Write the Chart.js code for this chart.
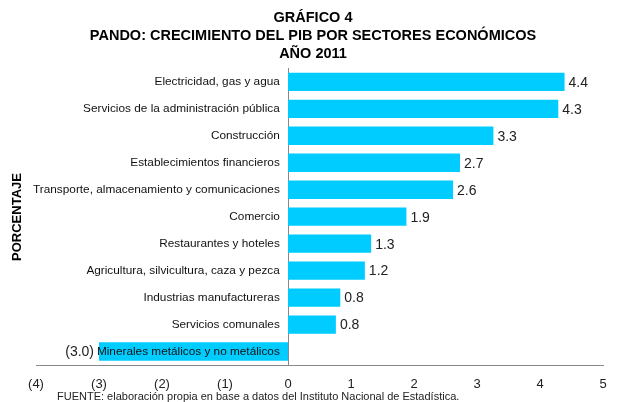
<!DOCTYPE html>
<html>
<head>
<meta charset="utf-8">
<script src="https://cdn.jsdelivr.net/npm/chart.js@4.4.1/dist/chart.umd.min.js"></script>
<style>
  html, body { margin: 0; padding: 0; background: #fff; }
</style>
</head>
<body>
<canvas id="chart" width="619" height="402"></canvas>
<script>
// ---------- Data ----------
const sectors = [
  'Electricidad, gas y agua',
  'Servicios de la administración pública',
  'Construcción',
  'Establecimientos financieros',
  'Transporte, almacenamiento y comunicaciones',
  'Comercio',
  'Restaurantes y hoteles',
  'Agricultura, silvicultura, caza y pezca',
  'Industrias manufactureras',
  'Servicios comunales',
  'Minerales metálicos y no metálicos'
];
const growth = [4.39, 4.29, 3.26, 2.73, 2.62, 1.88, 1.32, 1.22, 0.83, 0.76, -3.0];
const xTickLabels = ['(4)', '(3)', '(2)', '(1)', '0', '1', '2', '3', '4', '5'];
const titleLines = ['GRÁFICO 4', 'PANDO: CRECIMIENTO DEL PIB POR SECTORES ECONÓMICOS', 'AÑO 2011'];
const axisTitle = 'PORCENTAJE';
const sourceNote = 'FUENTE: elaboración propia en base a datos del Instituto Nacional de Estadística.';

const FONT = '"Liberation Sans", Arial, sans-serif';

// ---------- Plugins ----------
function fmtValue(v) {
  return v < 0 ? `(${(-v).toFixed(1)})` : v.toFixed(1);
}

const barLabels = {
  id: 'barLabels',
  afterDatasetsDraw(chart) {
    const { ctx } = chart;
    const meta = chart.getDatasetMeta(0);
    ctx.save();
    ctx.font = `14px ${FONT}`;
    ctx.fillStyle = '#222';
    ctx.textBaseline = 'middle';
    meta.data.forEach((bar, i) => {
      const v = growth[i];
      ctx.textAlign = v < 0 ? 'right' : 'left';
      ctx.fillText(fmtValue(v), bar.x + (v < 0 ? -5 : 4), bar.y + 1);
    });
    ctx.restore();
  }
};

const sideTexts = {
  id: 'sideTexts',
  afterDraw(chart) {
    const { ctx } = chart;
    ctx.save();
    ctx.fillStyle = '#000';
    ctx.font = `bold 13px ${FONT}`;
    ctx.textAlign = 'center';
    ctx.textBaseline = 'middle';
    ctx.translate(17, 217);
    ctx.rotate(-Math.PI / 2);
    ctx.fillText(axisTitle, 0, 0);
    ctx.restore();

    ctx.save();
    ctx.fillStyle = '#222';
    ctx.font = `11px ${FONT}`;
    ctx.textAlign = 'left';
    ctx.textBaseline = 'middle';
    ctx.fillText(sourceNote, 57, 397);
    ctx.restore();
  }
};

// ---------- Chart ----------
new Chart(document.getElementById('chart'), {
  type: 'bar',
  data: {
    labels: sectors,
    datasets: [{
      data: growth,
      backgroundColor: '#00CCFF',
      borderWidth: 0,
      barPercentage: 0.68,
      categoryPercentage: 1
    }]
  },
  options: {
    indexAxis: 'y',
    responsive: false,
    animation: false,
    devicePixelRatio: 1,
    layout: { padding: { left: 23, right: 16, top: 0, bottom: 0 } },
    plugins: {
      legend: { display: false },
      tooltip: { enabled: false },
      title: {
        display: true,
        text: titleLines,
        color: '#000',
        font: { family: FONT, size: 14.5, weight: 'bold', lineHeight: 1.25 },
        padding: { top: 9, bottom: 5 }
      }
    },
    scales: {
      x: {
        min: -4,
        max: 5,
        grid: { display: false, drawTicks: false },
        border: { display: true, color: '#888', width: 1 },
        ticks: {
          stepSize: 1,
          padding: 12,
          color: '#222',
          font: { family: FONT, size: 13 },
          callback: (v, i) => xTickLabels[i]
        },
        afterFit: s => { s.height = 37; s.paddingLeft = 36; }
      },
      // zero line (the bars' own category axis)
      y: {
        position: { x: 0 },
        offset: true,
        grid: { display: false, drawTicks: false },
        border: { display: true, color: '#888', width: 1 },
        ticks: { display: false }
      },
      // sector names, set just left of the zero line and drawn over the bars
      yNames: {
        type: 'category',
        axis: 'y',
        position: { x: -0.13 },
        offset: true,
        grid: { display: false, drawTicks: false },
        border: { display: false },
        ticks: {
          z: 1,
          color: '#111',
          font: { family: FONT, size: 11.8 }
        }
      }
    }
  },
  plugins: [barLabels, sideTexts]
});
</script>
</body>
</html>
